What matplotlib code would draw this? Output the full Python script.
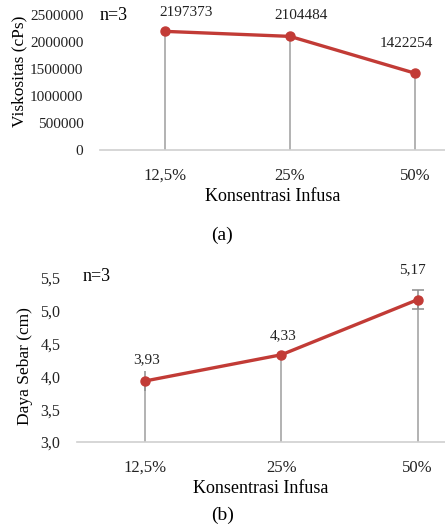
from matplotlib import pyplot as plt

plt.rcParams['font.family'] = ['Liberation Serif', 'DejaVu Serif']

categories = ['12,5%', '25%', '50%']
viskositas = [2197373, 2104484, 1422254]
daya_sebar = [3.93, 4.33, 5.17]
daya_sebar_err = [0.15, 0.03, 0.15]

visk_labels = ['2197373', '2104484', '1422254']
sebar_labels = ['3,93', '4,33', '5,17']
visk_yticks = [0, 500000, 1000000, 1500000, 2000000, 2500000]
sebar_yticks = [3.0, 3.5, 4.0, 4.5, 5.0, 5.5]
sebar_yticklabels = ['3,0', '3,5', '4,0', '4,5', '5,0', '5,5']

red = '#c23b36'
grey = '#a6a6a6'
x = list(range(len(categories)))

fig = plt.figure(figsize=(4.45, 5.29), dpi=100)


def style_axis(ax):
    for s in ['top', 'right', 'left']:
        ax.spines[s].set_visible(False)
    ax.spines['bottom'].set_color('#cfcfcf')
    ax.spines['bottom'].set_linewidth(1.2)
    ax.tick_params(length=0, labelsize=12, colors='#222222')
    ax.set_xticks(x)
    ax.set_xticklabels(categories)
    ax.tick_params(axis='x', pad=13)
    ax.set_xlabel('Konsentrasi Infusa', fontsize=13, labelpad=3)


# (a) Viskositas
ax1 = fig.add_axes([0.2247, 0.7164, 0.7753, 0.2552])
ax1.vlines(x, 0, viskositas, color=grey, lw=1.2, zorder=1)
ax1.plot(x, viskositas, color=red, lw=2.4, marker='o', ms=6.5, zorder=3)
ax1.set_ylim(0, 2500000)
ax1.set_xlim(-0.52, 2.24)
ax1.set_yticks(visk_yticks)
ax1.set_yticklabels([str(v) for v in visk_yticks])
style_axis(ax1)
ax1.tick_params(axis='y', pad=12, labelsize=11)
ax1.set_ylabel('Viskositas (cPs)', fontsize=12.5)
ax1.yaxis.set_label_coords(-0.21, 0.58)
visk_offsets = [(15, 9), (8, 10), (-6, 17)]
for xi, yi, lab, off in zip(x, viskositas, visk_labels, visk_offsets):
    ax1.annotate(lab, (xi, yi), xytext=off, textcoords='offset points',
                 ha='center', va='bottom', fontsize=11, color='#222222')
ax1.text(0.0, 1.0, 'n=3', transform=ax1.transAxes, fontsize=13,
         ha='left', va='center')
fig.text(0.5, 1 - 235 / 529, '(a)', fontsize=14, ha='center', va='center')

# (b) Daya Sebar
ax2 = fig.add_axes([0.173, 0.1645, 0.827, 0.31])
ax2.vlines(x, 3.0, daya_sebar, color=grey, lw=1.2, zorder=1)
ax2.errorbar(x[:2], daya_sebar[:2], yerr=daya_sebar_err[:2], fmt='none',
             ecolor='#8c8c8c', elinewidth=1.1, capsize=0, zorder=2)
ax2.errorbar(x[2:], daya_sebar[2:], yerr=daya_sebar_err[2:], fmt='none',
             ecolor='#8c8c8c', elinewidth=1.1, capsize=4, capthick=1.1, zorder=2)
ax2.plot(x, daya_sebar, color=red, lw=2.4, marker='o', ms=6.5, zorder=3)
ax2.set_ylim(3.0, 5.5)
ax2.set_xlim(-0.5, 2.2)
ax2.set_yticks(sebar_yticks)
ax2.set_yticklabels(sebar_yticklabels)
style_axis(ax2)
ax2.tick_params(axis='y', pad=12, labelsize=11.5)
ax2.set_ylabel('Daya Sebar (cm)', fontsize=12.5)
ax2.yaxis.set_label_coords(-0.12, 0.46)
sebar_offsets = [(1, 11), (1, 9), (-4, 17)]
for xi, yi, lab, off in zip(x, daya_sebar, sebar_labels, sebar_offsets):
    ax2.annotate(lab, (xi, yi), xytext=off, textcoords='offset points',
                 ha='center', va='bottom', fontsize=11, color='#222222')
ax2.text(0.014, 1.01, 'n=3', transform=ax2.transAxes, fontsize=13,
         ha='left', va='center')
fig.text(0.5, 1 - 515 / 529, '(b)', fontsize=14, ha='center', va='center')

plt.savefig('out.png', dpi=100)
